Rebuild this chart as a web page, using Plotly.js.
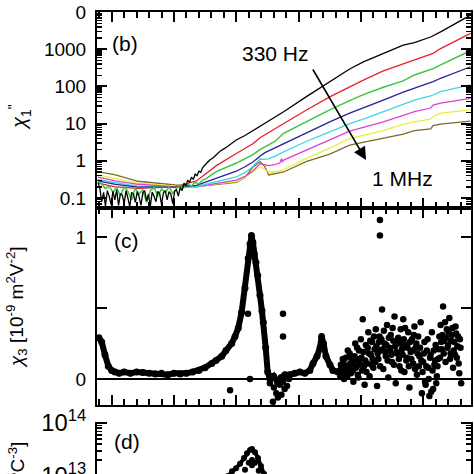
<!DOCTYPE html>
<html>
<head>
<meta charset="utf-8">
<script src="https://cdn.plot.ly/plotly-3.0.1.min.js"></script>
<style>
html, body { margin: 0; padding: 0; overflow: hidden; background: #fff; }
#chart { width: 474px; height: 520px; }
</style>
</head>
<body>
<div id="chart"></div>
<script>
// ---------- Panel (b): chi1'' vs temperature, 330 Hz ... 1 MHz ----------
var tempGrid = [39, 53, 71, 90, 101, 118, 134, 150, 157, 163, 169, 173, 176, 181, 188, 206, 225, 241, 252, 268, 284, 293, 306, 308, 314, 338];

var tempBlack = [39, 40.5, 42, 43.5, 45, 46.5, 48, 49.5, 51, 52.5, 54, 55.5, 57, 58.5, 60, 61.5, 63, 64.5, 66, 67.5, 69, 70.5, 72, 73.5, 75, 76.5, 78, 79.5, 81, 82.5, 84, 85.5, 87, 88.5, 90, 91.5, 93, 94.5, 96, 97.5, 99, 100.5, 102, 103.5, 105, 106.5, 108, 109.5, 111, 112.5, 114, 115.5, 117, 118.5, 120, 121.5, 123, 125, 127, 129, 131, 134, 137, 141, 145, 150, 157, 163, 169, 176, 188, 206, 225, 241, 252, 268, 284, 293, 306, 314, 338];
var chiBlack = [0.263, 0.178, 0.0794, 0.141, 0.0603, 0.158, 0.112, 0.0661, 0.151, 0.0891, 0.166, 0.0631, 0.132, 0.120, 0.0708, 0.158, 0.1, 0.0575, 0.141, 0.126, 0.0759, 0.148, 0.107, 0.0631, 0.138, 0.158, 0.0832, 0.126, 0.0603, 0.145, 0.112, 0.0794, 0.151, 0.132, 0.0661, 0.138, 0.158, 0.0891, 0.148, 0.126, 0.0708, 0.151, 0.166, 0.112, 0.191, 0.158, 0.251, 0.209, 0.302, 0.263, 0.363, 0.316, 0.437, 0.398, 0.525, 0.490, 0.661, 0.759, 0.912, 1.07, 1.17, 1.45, 1.82, 2.19, 2.75, 3.63, 4.79, 6.31, 8.71, 11.5, 20.9, 52.5, 135, 295, 457, 776, 1288, 1514, 2138, 2951, 8318];

var chiRed = [0.251, 0.2, 0.182, 0.191, 0.2, 0.288, 0.741, 1.58, 2.14, 2.82, 4.17, 5.01, 5.75, 7.24, 10.2, 22.9, 52.5, 100, 148, 263, 398, 513, 724, 776, 1047, 2692];

var tempGreen = [39, 42, 45, 48, 51, 54, 57, 60, 63, 66, 69, 72, 75, 78, 81, 84, 87, 90, 93, 96, 99, 102, 105, 108, 111, 114, 117, 120, 123, 126, 130, 134, 150, 157, 163, 169, 173, 176, 181, 188, 206, 225, 241, 252, 268, 284, 293, 306, 308, 314, 338];
var chiGreen = [0.275, 0.240, 0.178, 0.209, 0.141, 0.191, 0.112, 0.2, 0.151, 0.0891, 0.182, 0.126, 0.166, 0.0759, 0.158, 0.191, 0.112, 0.174, 0.141, 0.2, 0.132, 0.182, 0.219, 0.191, 0.240, 0.209, 0.263, 0.240, 0.302, 0.331, 0.417, 0.513, 0.871, 1.12, 1.45, 2.0, 2.4, 2.69, 3.31, 5.5, 11.2, 23.4, 41.7, 60.3, 95.5, 141, 204, 282, 302, 380, 912];

var chiBlue = [0.288, 0.234, 0.195, 0.191, 0.195, 0.219, 0.339, 0.525, 0.692, 0.912, 1.32, 1.66, 1.86, 2.24, 2.95, 5.75, 11.2, 19.1, 26.3, 42.7, 70.8, 89.1, 126, 135, 166, 339];
var chiCyan = [0.316, 0.257, 0.209, 0.195, 0.195, 0.204, 0.275, 0.372, 0.479, 0.692, 1.12, 1.10, 1.15, 1.32, 1.74, 3.31, 6.03, 10, 13.2, 20.9, 33.1, 42.7, 56.2, 58.9, 72.4, 110];

var tempMagenta = [39, 53, 71, 90, 101, 118, 134, 150, 157, 163, 169, 173, 176, 181, 185, 186.4, 187, 188, 206, 225, 241, 252, 268, 284, 293, 306, 308, 314, 338];
var chiMagenta = [0.363, 0.288, 0.234, 0.209, 0.2, 0.2, 0.245, 0.302, 0.380, 0.525, 0.832, 0.759, 0.741, 0.794, 0.871, 1.15, 0.912, 1.05, 1.91, 3.63, 6.31, 7.94, 11.2, 16.6, 20.9, 26.3, 31.6, 35.5, 47.9];

var chiYellow = [0.417, 0.339, 0.251, 0.224, 0.209, 0.2, 0.240, 0.275, 0.355, 0.501, 0.692, 0.575, 0.501, 0.501, 0.575, 1.15, 2.19, 3.98, 4.79, 6.46, 9.55, 11.2, 13.2, 15.8, 19.1, 23.4];
var chiOlive = [0.513, 0.417, 0.282, 0.240, 0.224, 0.204, 0.234, 0.263, 0.355, 0.661, 0.955, 0.692, 0.417, 0.447, 0.501, 0.955, 1.51, 2.63, 3.16, 3.98, 5.25, 6.46, 7.24, 8.91, 9.77, 11.7];

// ---------- Panel (c): chi3 ----------
var tempBand = [39.8, 42, 44.6, 47.3, 50, 52.6, 56, 60, 65, 70, 75, 80, 85, 90, 95, 100, 105, 110, 115, 120, 124.9, 130.3, 133.7, 138.3, 141.7, 146.3, 149, 151.6, 154.3, 157, 159.6, 161, 162.2, 163.4, 164.4, 165.8, 167.2, 169, 170.6, 171.7, 173.6, 175.2, 177, 180, 183, 186, 189, 193, 197, 201, 205, 209, 211.6, 214.8, 217.2, 218.5, 220, 222, 225.2, 227.6, 231.6, 235.6];
var chi3Band = [0.29, 0.26, 0.17, 0.09, 0.06, 0.05, 0.04, 0.05, 0.04, 0.05, 0.045, 0.04, 0.035, 0.04, 0.03, 0.04, 0.035, 0.04, 0.05, 0.06, 0.08, 0.11, 0.13, 0.16, 0.2, 0.25, 0.3, 0.36, 0.47, 0.64, 0.85, 0.95, 1.01, 0.96, 0.88, 0.82, 0.73, 0.59, 0.48, 0.4, 0.22, 0.05, 0.0, 0.02, -0.02, 0.01, 0.03, 0.03, 0.04, 0.05, 0.04, 0.06, 0.11, 0.16, 0.22, 0.3, 0.25, 0.16, 0.1, 0.06, 0.05, 0.08];

var tempScatterA = [233, 234, 235, 236, 237, 238, 239, 240, 241, 242, 243, 244, 245, 246, 247, 248, 249, 250, 251, 252, 253, 254, 255, 256, 257, 258, 259, 260, 261, 262, 263, 264, 265, 266, 267, 268, 269, 270, 271, 272, 273, 274, 275, 276, 277, 278, 279, 280, 281, 282, 283, 284, 285, 286, 287, 288, 289, 290, 291, 292, 293, 294, 295, 296, 297, 298, 299, 300, 301, 302, 303, 304, 305, 306, 307, 308, 309, 310, 311, 312, 313, 314, 315, 316, 317, 318, 319, 320, 321, 322, 323, 324, 325, 326, 327, 328, 329, 330];
var chi3ScatterA = [0.06, 0.10, 0.03, 0.12, 0.05, 0.15, 0.02, 0.09, 0.18, 0.04, 0.12, -0.02, 0.16, 0.08, 0.22, 0.01, 0.14, 0.28, 0.06, 0.19, -0.04, 0.24, 0.11, 0.33, 0.02, 0.17, 0.26, 0.08, 0.21, 0.35, -0.05, 0.14, 0.3, 0.2, 0.49, 0.07, 0.25, 0.16, 0.38, 0.01, 0.22, 0.31, 0.12, 0.27, 0.44, -0.03, 0.18, 0.29, 0.09, 0.35, 0.21, 0.42, 0.05, 0.24, 0.15, 0.33, -0.06, 0.19, 0.28, 0.11, 0.37, 0.22, 0.03, 0.3, 0.16, 0.4, -0.1, 0.12, 0.26, -0.04, 0.2, 0.08, -0.12, 0.17, 0.33, -0.07, 0.1, 0.24, 0.02, 0.14, 0.3, 0.38, 0.21, 0.51, 0.27, 0.12, 0.35, 0.24, 0.43, 0.18, 0.31, 0.08, 0.26, 0.37, 0.15, 0.3, 0.04, 0.22];

var tempScatterB = [233.5, 234.5, 235.5, 236.5, 237.5, 238.5, 239.5, 240.5, 241.5, 242.5, 243.5, 244.5, 245.5, 246.5, 247.5, 248.5, 249.5, 250.5, 251.5, 252.5, 253.5, 254.5, 255.5, 256.5, 257.5, 258.5, 259.5, 260.5, 261.5, 262.5, 263.5, 264.5, 265.5, 266.5, 267.5, 268.5, 269.5, 270.5, 271.5, 272.5, 273.5, 274.5, 275.5, 276.5, 277.5, 278.5, 279.5, 280.5, 281.5, 282.5, 283.5, 284.5, 285.5, 286.5, 287.5, 288.5, 289.5, 290.5, 291.5, 292.5, 293.5, 294.5, 295.5, 296.5, 297.5, 298.5, 299.5, 300.5, 301.5, 302.5, 303.5, 304.5, 305.5, 306.5, 307.5, 308.5, 309.5, 310.5, 311.5, 312.5, 313.5, 314.5, 315.5, 316.5, 317.5, 318.5, 319.5, 320.5, 321.5, 322.5, 323.5, 324.5, 325.5, 326.5, 327.5, 328.5, 329.5, 330.5];
var chi3ScatterB = [0.02, 0.07, 0.14, 0.0, 0.09, 0.04, 0.2, 0.07, 0.11, 0.15, 0.06, 0.1, 0.25, 0.13, 0.03, 0.2, 0.1, 0.15, 0.42, 0.09, 0.13, 0.05, 0.22, 0.18, 0.27, 0.1, 0.14, 0.3, 0.12, 0.23, 0.18, 0.26, 0.09, 0.28, 0.21, 0.34, 0.19, 0.24, 0.13, 0.29, 0.2, 0.17, 0.36, 0.1, 0.23, 0.19, 0.27, 0.14, 0.25, 0.06, 0.17, 0.28, 0.36, 0.13, 0.22, 0.09, 0.26, 0.14, 0.2, 0.31, 0.07, 0.25, 0.18, 0.09, 0.22, 0.13, 0.05, 0.18, -0.02, 0.09, 0.28, 0.0, 0.15, -0.09, 0.06, 0.2, 0.13, -0.03, 0.09, 0.21, 0.15, 0.26, 0.31, 0.18, 0.4, 0.29, 0.22, 0.33, 0.14, 0.27, 0.36, 0.2, 0.17, 0.32, 0.23, 0.11, 0.28, -0.03];

var tempOutliers = [145, 159.4, 161, 177, 178.6, 179.4, 180.2, 182.1, 183.4, 185.1, 186.2, 187.5, 187.5, 187.5, 188.8, 190.7, 192.3, 265.3, 265.3];
var chi3Outliers = [-0.08, 0.46, 0.0, -0.03, 0.02, -0.16, -0.06, -0.1, -0.13, -0.04, -0.11, -0.02, 0.46, 0.30, -0.07, -0.05, 0.0, 1.12, 1.01];

// ---------- Panel (d) ----------
var tempD = [143.3, 146.6, 149.8, 153, 156.2, 158.6, 161, 162.6, 165, 167.4, 169.8, 172.2];
var valD = [1.0e13, 1.23e13, 1.41e13, 1.70e13, 2.19e13, 2.69e13, 3.09e13, 3.24e13, 2.82e13, 2.19e13, 1.55e13, 1.10e13];
var tempDInner = [153, 157, 160, 162.6, 162.6, 165, 168, 171];
var valDInner = [8.9e12, 1.32e13, 1.78e13, 2.0e13, 1.6e13, 1.78e13, 1.26e13, 8.9e12];

var seriesNames = ['330 Hz', '', '', '', '', '', '', '1 MHz'];
var lineColors = ['#000000', '#e8232b', '#3ec43e', '#23239a', '#3fd6e4', '#d844d4', '#ecec3c', '#7d6b28'];

var FONT = 'Liberation Sans, Arial, Helvetica, sans-serif';
var H = 520, L = 97, R = 3;
function py(p) { return 1 - p / H; }
function px(p) { return (p - L) / (474 - L - R); }

function lineTrace(x, y, c, w) {
  return {x: x, y: y, type: 'scatter', mode: 'lines', xaxis: 'x', yaxis: 'y',
          line: {color: c, width: w}, hoverinfo: 'skip', showlegend: false};
}

var traces = [
  lineTrace(tempGrid, chiOlive, lineColors[7], 1.3),
  lineTrace(tempGrid, chiYellow, lineColors[6], 1.3),
  lineTrace(tempMagenta, chiMagenta, lineColors[5], 1.3),
  lineTrace(tempGrid, chiCyan, lineColors[4], 1.3),
  lineTrace(tempGrid, chiBlue, lineColors[3], 1.3),
  lineTrace(tempGrid, chiRed, lineColors[1], 1.3),
  lineTrace(tempGreen, chiGreen, lineColors[2], 1.5),
  lineTrace(tempBlack, chiBlack, lineColors[0], 1.3),
  {x: tempBand, y: chi3Band, type: 'scatter', mode: 'lines+markers', xaxis: 'x2', yaxis: 'y2',
   line: {color: '#000', width: 6}, marker: {color: '#000', size: 7}, showlegend: false, hoverinfo: 'skip'},
  {x: tempScatterA, y: chi3ScatterA, type: 'scatter', mode: 'markers', xaxis: 'x2', yaxis: 'y2',
   marker: {color: '#000', size: 6.5}, showlegend: false, hoverinfo: 'skip'},
  {x: tempScatterB, y: chi3ScatterB, type: 'scatter', mode: 'markers', xaxis: 'x2', yaxis: 'y2',
   marker: {color: '#000', size: 6.5}, showlegend: false, hoverinfo: 'skip'},
  {x: tempOutliers, y: chi3Outliers, type: 'scatter', mode: 'markers', xaxis: 'x2', yaxis: 'y2',
   marker: {color: '#000', size: 6.5}, showlegend: false, hoverinfo: 'skip'},
  {x: tempD, y: valD, type: 'scatter', mode: 'lines+markers', xaxis: 'x', yaxis: 'y3',
   line: {color: '#000', width: 4}, marker: {color: '#000', size: 6}, showlegend: false, hoverinfo: 'skip'},
  {x: tempDInner, y: valDInner, type: 'scatter', mode: 'markers', xaxis: 'x', yaxis: 'y3',
   marker: {color: '#000', size: 6}, showlegend: false, hoverinfo: 'skip'}
];

var xRange = [38.2, 338.4];
function xAxis(extra) {
  var a = {range: xRange, domain: [0, 1], tick0: 0, dtick: 50, ticks: 'inside', ticklen: 10, tickwidth: 2,
           tickcolor: '#000', showticklabels: false, showgrid: false, zeroline: false,
           showline: true, linewidth: 2, linecolor: '#000',
           minor: {dtick: 10, tick0: 0, ticks: 'inside', ticklen: 6, tickwidth: 2, tickcolor: '#000'}};
  for (var k in extra) a[k] = extra[k];
  return a;
}

var tickFont = {family: FONT, size: 19, color: '#000'};

function label(xp, yp, text, size) {
  return {xref: 'paper', yref: 'paper', x: px(xp), y: py(yp), text: text, showarrow: false,
          xanchor: 'center', yanchor: 'middle', font: {family: FONT, size: size, color: '#000'}};
}

var layout = {
  width: 474, height: H,
  margin: {l: L, r: R, t: 0, b: 0, pad: 0},
  paper_bgcolor: '#fff', plot_bgcolor: 'rgba(0,0,0,0)',
  showlegend: false,
  font: {family: FONT, color: '#000'},
  xaxis: xAxis({anchor: 'y', mirror: 'ticks'}),
  xaxis2: xAxis({anchor: 'y2', mirror: 'ticks'}),
  xaxis3: xAxis({anchor: 'free', position: py(12), side: 'top', ticks: 'outside', showline: false,
                 minor: {dtick: 10, tick0: 0, ticks: 'outside', ticklen: 6, tickwidth: 2, tickcolor: '#000'}}),
  xaxis4: xAxis({anchor: 'free', position: py(405), side: 'bottom', ticks: 'outside', showline: false,
                 minor: {dtick: 10, tick0: 0, ticks: 'outside', ticklen: 6, tickwidth: 2, tickcolor: '#000'}}),
  yaxis: {domain: [py(208), py(12)], anchor: 'x', type: 'log', range: [-1.269, 4.003],
          tickmode: 'linear', tick0: 0, dtick: 1, exponentformat: 'none', labelalias: {'10000': '0', '10,000': '0'},
          ticks: 'inside', ticklen: 10, tickwidth: 2, tickcolor: '#000', mirror: 'ticks',
          showline: true, linewidth: 2, linecolor: '#000', showgrid: false, zeroline: false,
          tickfont: tickFont, ticklabelstandoff: 5,
          minor: {dtick: 'D1', ticks: 'inside', ticklen: 5, tickwidth: 1.5, tickcolor: '#000'}},
  yaxis2: {domain: [py(405), py(208)], anchor: 'x2', range: [-0.183, 1.204],
           tickmode: 'array', tickvals: [0, 0.5, 1], ticktext: ['0', '', '1'],
           ticks: 'inside', ticklen: 10, tickwidth: 2, tickcolor: '#000', mirror: 'ticks',
           showline: true, linewidth: 2, linecolor: '#000', showgrid: false,
           zeroline: true, zerolinecolor: '#000', zerolinewidth: 1.6,
           tickfont: tickFont, ticklabelstandoff: 5},
  yaxis3: {domain: [0, py(422)], anchor: 'x', type: 'log', range: [12.17, 14.02],
           tickmode: 'linear', tick0: 0, dtick: 1, exponentformat: 'power',
           ticks: 'inside', ticklen: 10, tickwidth: 2, tickcolor: '#000', mirror: 'ticks',
           showline: true, linewidth: 2, linecolor: '#000', showgrid: false, zeroline: false,
           tickfont: tickFont, ticklabelstandoff: 5,
           minor: {dtick: 'D1', ticks: 'inside', ticklen: 5, tickwidth: 1.5, tickcolor: '#000'}},
  annotations: [
    {xref: 'paper', yref: 'paper', x: px(20), y: py(117), text: '<i>χ</i><sub>1</sub><sup>"</sup>',
     showarrow: false, textangle: -90, font: {family: FONT, size: 20, color: '#000'}, xanchor: 'center', yanchor: 'middle'},
    {xref: 'paper', yref: 'paper', x: px(16), y: py(307),
     text: '<i>χ</i><sub>3</sub> [10<sup>-9</sup> m<sup>2</sup>V<sup>-2</sup>]',
     showarrow: false, textangle: -90, font: {family: FONT, size: 19, color: '#000'}, xanchor: 'center', yanchor: 'middle'},
    {xref: 'paper', yref: 'paper', x: px(18), y: py(440),
     text: '<i>χ</i><sub>3</sub>/<i>χ</i><sub>1</sub><sup>4</sup> [V m<sup>5</sup>C<sup>-3</sup>]',
     showarrow: false, textangle: -90, font: {family: FONT, size: 19, color: '#000'}, xanchor: 'center', yanchor: 'top'},
    label(125, 43, '(b)', 21),
    label(126, 240, '(c)', 21),
    label(127, 441, '(d)', 21),
    label(275, 54, seriesNames[0], 21),
    label(402, 178.5, seriesNames[7], 21),
    {xref: 'paper', yref: 'paper', x: px(366), y: py(160), ax: -54, ay: -92, text: '',
     showarrow: true, arrowhead: 2, arrowsize: 1.6, arrowwidth: 1.6, arrowcolor: '#000', standoff: 0}
  ]
};

Plotly.newPlot('chart', traces, layout, {staticPlot: true, displayModeBar: false});
</script>
</body>
</html>
